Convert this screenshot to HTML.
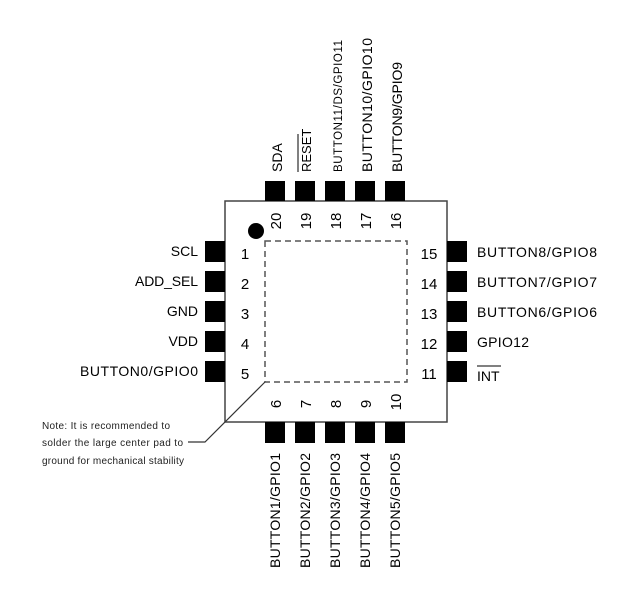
<!DOCTYPE html>
<html><head><meta charset="utf-8"><style>
html,body{margin:0;padding:0;background:#fff;}
svg{display:block;}
.c{font-family:"Liberation Sans",sans-serif;font-size:14px;fill:#000;}
.n{font-family:"Liberation Sans",sans-serif;font-size:15px;fill:#000;}
.s{font-family:"Liberation Sans",sans-serif;font-size:10px;fill:#222;}
</style></head><body>
<svg width="623" height="590" viewBox="0 0 623 590" xmlns="http://www.w3.org/2000/svg">
<rect x="225" y="201" width="222" height="221" fill="#fff" stroke="#444" stroke-width="1.5"/>
<g fill="#000">
<rect x="265" y="181" width="20" height="20"/><rect x="295" y="181" width="20" height="20"/><rect x="325" y="181" width="20" height="20"/><rect x="355" y="181" width="20" height="20"/><rect x="385" y="181" width="20" height="20"/>
<rect x="265" y="422" width="20" height="21"/><rect x="295" y="422" width="20" height="21"/><rect x="325" y="422" width="20" height="21"/><rect x="355" y="422" width="20" height="21"/><rect x="385" y="422" width="20" height="21"/>
<rect x="205" y="241" width="20" height="21"/><rect x="205" y="271" width="20" height="21"/><rect x="205" y="301" width="20" height="21"/><rect x="205" y="331" width="20" height="21"/><rect x="205" y="361" width="20" height="21"/>
<rect x="447" y="241" width="20" height="21"/><rect x="447" y="271" width="20" height="21"/><rect x="447" y="301" width="20" height="21"/><rect x="447" y="331" width="20" height="21"/><rect x="447" y="361" width="20" height="21"/>
<circle cx="256" cy="231" r="8"/>
</g>
<rect x="265" y="241" width="142" height="141" fill="none" stroke="#555" stroke-width="1.5" stroke-dasharray="6,4"/>
<polyline points="265,382 205,442 188,442" fill="none" stroke="#333" stroke-width="1.2"/>
<g class="n">
<text x="245" y="259" text-anchor="middle">1</text><text x="245" y="289" text-anchor="middle">2</text><text x="245" y="319" text-anchor="middle">3</text><text x="245" y="349" text-anchor="middle">4</text><text x="245" y="379" text-anchor="middle">5</text>
<text x="429" y="259" text-anchor="middle">15</text><text x="429" y="289" text-anchor="middle">14</text><text x="429" y="319" text-anchor="middle">13</text><text x="429" y="349" text-anchor="middle">12</text><text x="429" y="379" text-anchor="middle">11</text>
<text transform="translate(281,221) rotate(-90)" text-anchor="middle">20</text>
<text transform="translate(311,221) rotate(-90)" text-anchor="middle">19</text>
<text transform="translate(341,221) rotate(-90)" text-anchor="middle">18</text>
<text transform="translate(371,221) rotate(-90)" text-anchor="middle">17</text>
<text transform="translate(401,221) rotate(-90)" text-anchor="middle">16</text>
<text transform="translate(281,404) rotate(-90)" text-anchor="middle">6</text>
<text transform="translate(311,404) rotate(-90)" text-anchor="middle">7</text>
<text transform="translate(341,404) rotate(-90)" text-anchor="middle">8</text>
<text transform="translate(371,404) rotate(-90)" text-anchor="middle">9</text>
<text transform="translate(401,402) rotate(-90)" text-anchor="middle">10</text>
</g>
<g class="c">
<text x="198" y="256" text-anchor="end">SCL</text>
<text x="198" y="286" text-anchor="end" textLength="63">ADD_SEL</text>
<text x="198" y="316" text-anchor="end">GND</text>
<text x="198" y="346" text-anchor="end">VDD</text>
<text x="80" y="376" textLength="118">BUTTON0/GPIO0</text>
<text x="477" y="257" textLength="120">BUTTON8/GPIO8</text>
<text x="477" y="287" textLength="120">BUTTON7/GPIO7</text>
<text x="477" y="317" textLength="120">BUTTON6/GPIO6</text>
<text x="477" y="347" textLength="52">GPIO12</text>
<text x="477" y="381">INT</text>
<line x1="477" y1="366" x2="501" y2="366" stroke="#000" stroke-width="1"/>
<text transform="translate(282,172) rotate(-90)">SDA</text>
<text transform="translate(311,172) rotate(-90)" style="font-size:13px">RESET</text>
<line x1="298" y1="172" x2="298" y2="134" stroke="#000" stroke-width="1"/>
<text transform="translate(342,172) rotate(-90)" style="font-size:11.5px" textLength="132">BUTTON11/DS/GPIO11</text>
<text transform="translate(372,172) rotate(-90)" textLength="134">BUTTON10/GPIO10</text>
<text transform="translate(402,172) rotate(-90)" textLength="110">BUTTON9/GPIO9</text>
<text transform="translate(280,568) rotate(-90)" textLength="115">BUTTON1/GPIO1</text>
<text transform="translate(310,568) rotate(-90)" textLength="115">BUTTON2/GPIO2</text>
<text transform="translate(340,568) rotate(-90)" textLength="115">BUTTON3/GPIO3</text>
<text transform="translate(370,568) rotate(-90)" textLength="115">BUTTON4/GPIO4</text>
<text transform="translate(400,568) rotate(-90)" textLength="115">BUTTON5/GPIO5</text>
</g>
<g class="s">
<text x="42" y="429" textLength="128">Note: It is recommended to</text>
<text x="42" y="446" textLength="141">solder the large center pad to</text>
<text x="42" y="464" textLength="142">ground for mechanical stability</text>
</g>
</svg>
</body></html>
